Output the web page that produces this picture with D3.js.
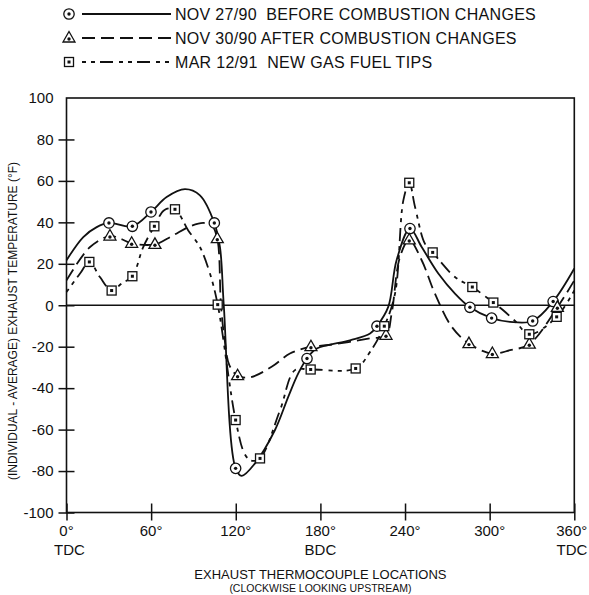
<html lang="en">
  <head>
    <meta charset="UTF-8" />
    <title>Exhaust temperature spread</title>
    <script src="https://d3js.org/d3.v7.min.js"></script>
  </head>
  <style>
    body {
      margin: 0px;
      overflow: hidden;
      background: #fff;
    }
    text {
      font-family: "Liberation Sans", Arial, sans-serif;
      fill: #111;
    }
  </style>
  <body>
    <svg width="589" height="595"></svg>
  </body>
  <footer>
    <script>
      // marker readings [degrees, deviation °F]
      var beforePoints = [[30.1, 39.7], [46.7, 38.1], [59.9, 45], [104.8, 39.7], [119.9, -78.7], [170.5, -25.7],
        [220.1, -10.1], [243.5, 37], [286, -1], [301.4, -6.2], [330.5, -7.6], [345, 1.8]];
      var afterPoints = [[30.8, 33.4], [46.2, 29.9], [62.7, 29.4], [106.9, 32.1], [121.3, -34], [173.3, -20],
        [226.5, -14.5], [243, 31.5], [285.3, -18.5], [301.9, -23.3], [328.1, -18.8], [348, -1]];
      var tipsPoints = [[16.2, 20.9], [32, 7.1], [46.7, 14], [62.3, 38.1], [76.9, 46.3], [107.2, 0.3], [119.9, -55.4],
        [137.2, -73.9], [173.1, -31], [205, -30.5], [225.3, -10.1], [243, 59.1], [259.6, 25.5], [287.7, 8.8],
        [302.6, 1.3], [328.1, -14], [347.5, -5.6]];

      // hand-faired curves
      var beforeCurve = [[0, 21.7], [11.9, 32.9], [21.4, 37.7], [30.1, 39.7], [46.7, 38.1], [59.9, 45], [71, 52.2],
        [84, 56], [94.6, 53], [104.8, 39.7], [108.8, 28], [111.5, 0], [119.9, -78.7], [124.2, -82.3], [133.6, -76.3],
        [147.8, -60.2], [157.2, -44.2], [164.3, -32.9], [170.5, -25.7], [177.4, -20.9], [201, -16.9], [215.2, -13.6],
        [220.1, -10.1], [228.1, -0.8], [234, 21.7], [243.5, 37], [251.8, 28.1], [263.6, 15.3], [275.4, 5.6], [286, -1],
        [301.4, -6.2], [314.4, -8], [330.5, -7.6], [345, 1.8], [360, 17.7]];
      var afterCurve = [[0, 12], [16.7, 28.1], [30.8, 33.4], [38.5, 32], [46.2, 29.9], [62.7, 29.4], [75, 33.5],
        [87.6, 38.1], [97, 39.7], [102.9, 38.6], [106.9, 32.1], [109.5, 0], [112, -16], [115.5, -29], [121.3, -34],
        [130, -34.8], [145.4, -29.7], [158.4, -23.3], [173.3, -20], [184.5, -19.3], [215.2, -16], [226.5, -14.5],
        [230.5, -4], [236.4, 23.3], [243, 31.5], [251.8, 21.7], [261.2, 5.6], [273.1, -10.4], [285.3, -18.5],
        [301.9, -23.3], [314.4, -21.7], [328.1, -18.8], [348, -1], [360, 12]];
      var tipsCurve = [[0, 6.4], [9.6, 15.3], [16.2, 20.9], [23.7, 13.6], [32, 7.1], [39.1, 10.5], [46.7, 14],
        [54.4, 28.1], [62.3, 38.1], [69.5, 46], [76.9, 46.3], [86.3, 36.1], [94.6, 28.1], [101.7, 15.3], [107.2, 0.3],
        [119.9, -55.4], [126.5, -72], [131, -75], [137.2, -73.9], [151.4, -50.6], [162, -31.3], [173.1, -31],
        [205, -30.5], [215.2, -22.5], [225.3, -10.1], [232.9, 5.6], [238.8, 50.6], [243, 59.1], [247.1, 47.4],
        [254.1, 29.7], [259.6, 25.5], [275.4, 13.6], [287.7, 8.8], [302.6, 1.3], [309.6, -2.4], [318, -7.6],
        [328.1, -14], [347.5, -5.6], [360, 7.2]];

      var yTicks = [-100, -80, -60, -40, -20, 0, 20, 40, 60, 80, 100];
      var xTicks = [0, 60, 120, 180, 240, 300, 360];
      var xSubLabels = { 0: "TDC", 180: "BDC", 360: "TDC" };
      var legendLabels = ["NOV 27/90  BEFORE COMBUSTION CHANGES", "NOV 30/90 AFTER COMBUSTION CHANGES",
        "MAR 12/91  NEW GAS FUEL TIPS"];

      var svg = d3.select("svg");
      var width = +svg.attr("width");
      var height = +svg.attr("height");
      var margin = { top: 98, right: 14.7, bottom: 82.5, left: 66.5 };
      var innerWidth = width - margin.left - margin.right;
      var innerHeight = height - margin.top - margin.bottom;

      // scales in page coordinates, so texts sit at absolute positions
      var xScale = d3.scaleLinear().domain([0, 360]).range([margin.left, margin.left + innerWidth]);
      var yScale = d3.scaleLinear().domain([-100, 100]).range([margin.top + innerHeight, margin.top]);

      // frame + zero line
      svg.append("rect")
        .attr("x", margin.left).attr("y", margin.top)
        .attr("width", innerWidth)
        .attr("height", innerHeight)
        .attr("fill", "none")
        .attr("stroke", "#111")
        .attr("stroke-width", 1.6);
      svg.append("line")
        .attr("x1", xScale(0)).attr("x2", xScale(360))
        .attr("y1", yScale(0)).attr("y2", yScale(0))
        .attr("stroke", "#111").attr("stroke-width", 1.5);

      // axes: tick marks cross the frame, labels drawn separately
      var yAxis = svg.append("g")
        .attr("transform", `translate(${margin.left}, 0)`)
        .call(d3.axisLeft(yScale).tickValues(yTicks.filter(function (d) { return d !== 100; })).tickSize(8));
      yAxis.select(".domain").remove();
      yAxis.selectAll(".tick text").remove();
      yAxis.selectAll(".tick line").attr("x1", 8).attr("stroke", "#111").attr("stroke-width", 1.5);

      var xAxis = svg.append("g")
        .attr("transform", `translate(0, ${margin.top + innerHeight})`)
        .call(d3.axisBottom(xScale).tickValues(xTicks).tickSize(8));
      xAxis.select(".domain").remove();
      xAxis.selectAll(".tick text").remove();
      xAxis.selectAll(".tick line").attr("y1", -9).attr("stroke", "#111").attr("stroke-width", 1.5);

      svg.selectAll(".ylabel")
        .data(yTicks)
        .enter()
        .append("text")
        .attr("class", "ylabel")
        .attr("x", margin.left - 13)
        .attr("y", function (d) { return yScale(d) + 5.3; })
        .attr("text-anchor", "end")
        .attr("font-size", 15)
        .text(function (d) { return String(d); });

      var baseY = margin.top + innerHeight;
      svg.selectAll(".xlabel")
        .data(xTicks)
        .enter()
        .append("text")
        .attr("class", "xlabel")
        .attr("x", function (d) { return d === 360 ? xScale(d) + 13 : xScale(d); })
        .attr("y", baseY + 23)
        .attr("text-anchor", function (d) { return d === 360 ? "end" : "middle"; })
        .attr("font-size", 15)
        .text(function (d) { return d + "°"; });
      svg.selectAll(".xsub")
        .data(xTicks.filter(function (d) { return xSubLabels[d]; }))
        .enter()
        .append("text")
        .attr("class", "xsub")
        .attr("x", function (d) { return d === 360 ? xScale(d) + 13 : (d === 0 ? xScale(d) + 3 : xScale(d)); })
        .attr("y", baseY + 42)
        .attr("text-anchor", function (d) { return d === 360 ? "end" : "middle"; })
        .attr("font-size", 15)
        .text(function (d) { return xSubLabels[d]; });

      // axis titles
      svg.append("text")
        .attr("x", xScale(180))
        .attr("y", 579)
        .attr("text-anchor", "middle")
        .attr("font-size", 13)
        .text("EXHAUST THERMOCOUPLE LOCATIONS");
      svg.append("text")
        .attr("x", xScale(180))
        .attr("y", 591.5)
        .attr("text-anchor", "middle")
        .attr("font-size", 10.5)
        .text("(CLOCKWISE LOOKING UPSTREAM)");
      svg.append("text")
        .attr("transform", "translate(17, 321) rotate(-90)")
        .attr("text-anchor", "middle")
        .attr("font-size", 12)
        .text("(INDIVIDUAL - AVERAGE) EXHAUST TEMPERATURE (°F)");

      var series = [
        { curve: beforeCurve, points: beforePoints, dash: null, marker: "circle" },
        { curve: afterCurve, points: afterPoints, dash: "13,6", marker: "triangle" },
        { curve: tipsCurve, points: tipsPoints, dash: "4,5,4,5,13,6", marker: "square" }
      ];

      var line = d3.line()
        .x(function (d) { return xScale(d[0]); })
        .y(function (d) { return yScale(d[1]); })
        .curve(d3.curveCatmullRom.alpha(0.5));

      series.forEach(function (s) {
        svg.append("path")
          .datum(s.curve)
          .attr("d", line)
          .attr("fill", "none")
          .attr("stroke", "#111")
          .attr("stroke-width", 1.8)
          .attr("stroke-dasharray", s.dash);
      });

      function drawMarker(sel, type) {
        if (type === "circle") {
          sel.append("circle").attr("r", 5.2).attr("fill", "#fff").attr("stroke", "#111").attr("stroke-width", 1.3);
          sel.append("circle").attr("r", 1.7).attr("fill", "#111");
        } else if (type === "triangle") {
          sel.append("path").attr("d", "M0,-6.5L6,4L-6,4Z").attr("fill", "#fff").attr("stroke", "#111").attr("stroke-width", 1.3);
          sel.append("circle").attr("cy", 1).attr("r", 1.7).attr("fill", "#111");
        } else {
          sel.append("rect").attr("x", -4.5).attr("y", -4.5).attr("width", 9).attr("height", 9)
            .attr("fill", "#fff").attr("stroke", "#111").attr("stroke-width", 1.3);
          sel.append("rect").attr("x", -1.5).attr("y", -1.5).attr("width", 3).attr("height", 3).attr("fill", "#111");
        }
      }

      series.forEach(function (s) {
        svg.selectAll(null)
          .data(s.points)
          .enter()
          .append("g")
          .attr("transform", function (d) { return `translate(${xScale(d[0])}, ${yScale(d[1])})`; })
          .each(function () { drawMarker(d3.select(this), s.marker); });
      });

      // legend
      series.forEach(function (s, i) {
        var ly = 14 + i * 24;
        drawMarker(svg.append("g").attr("transform", `translate(69, ${ly})`), s.marker);
        svg.append("line")
          .attr("x1", 82).attr("x2", 171)
          .attr("y1", ly).attr("y2", ly)
          .attr("stroke", "#111").attr("stroke-width", 1.8)
          .attr("stroke-dasharray", s.dash);
        svg.append("text")
          .attr("x", 175)
          .attr("y", ly + 5.6)
          .attr("font-size", 16)
          .attr("letter-spacing", 0.3)
          .style("white-space", "pre")
          .text(legendLabels[i]);
      });
    </script>
  </footer>
</html>
